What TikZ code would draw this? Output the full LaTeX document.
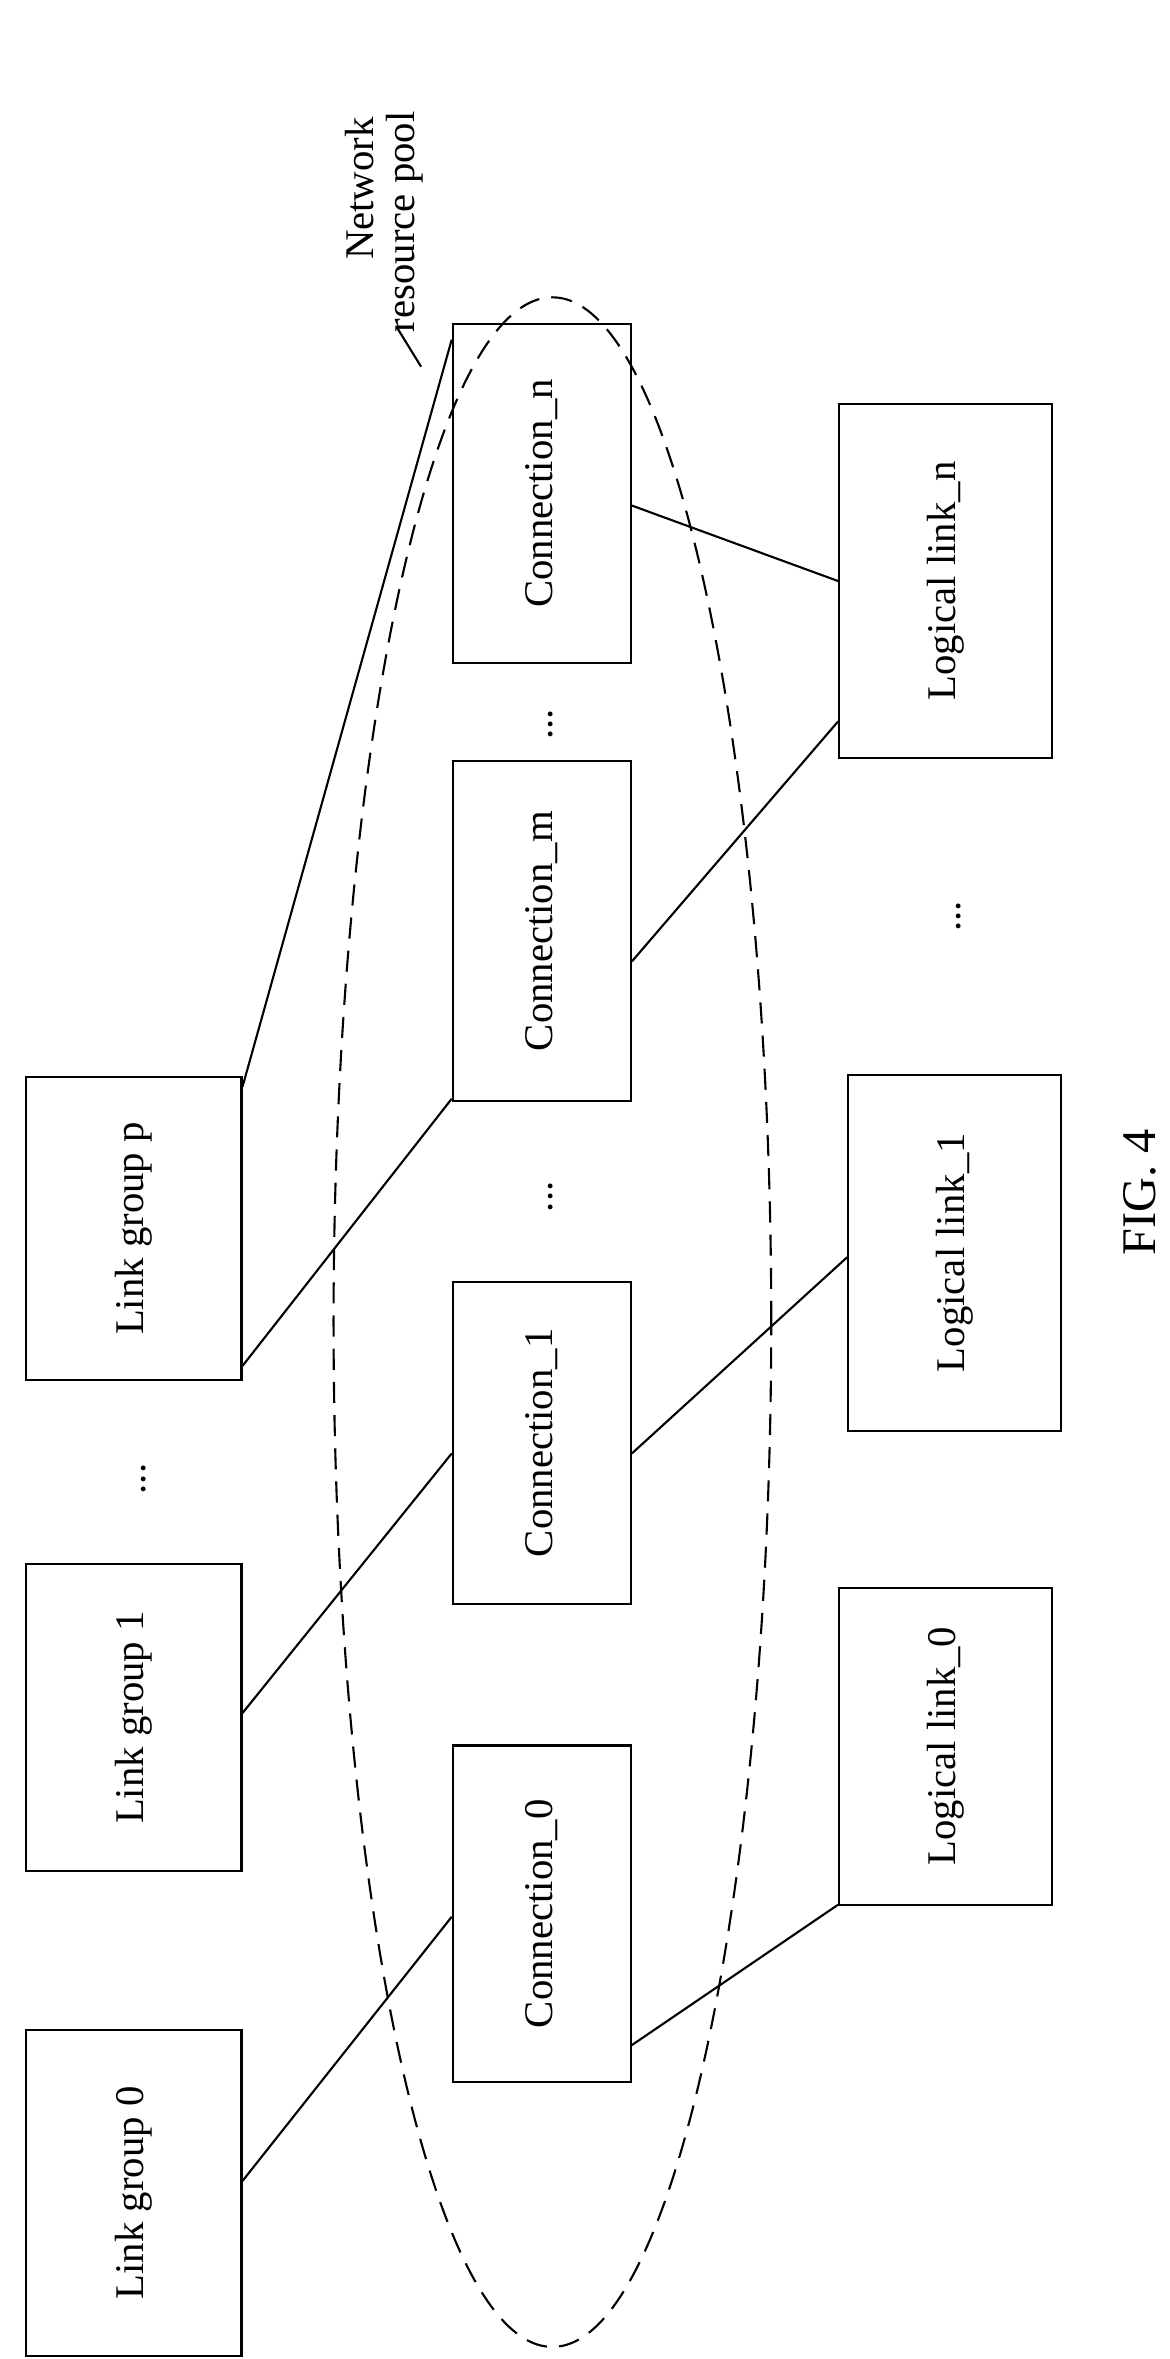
\documentclass[tikz,border=0pt]{standalone}
\usepackage{fontspec}
\setmainfont{Liberation Serif}
\usetikzlibrary{calc,shapes.geometric}
\begin{document}
\begin{tikzpicture}[x=1pt,y=1pt,line width=1.4pt,
  box/.style={draw,rotate=90,inner sep=0pt,font=\fontsize{27}{32}\selectfont},
  lbl/.style={rotate=90,font=\fontsize{27}{32}\selectfont,inner sep=0pt}]
\useasboundingbox (0,0) rectangle (775,1563);
\node[box,minimum width=216,minimum height=143] (lg0) at (88.5,110) {Link group 0};
\node[box,minimum width=203,minimum height=143] (lg1) at (88.5,425) {Link group 1};
\node[box,minimum width=201,minimum height=143] (lgp) at (88.5,749) {Link group p};
\node[box,minimum width=223,minimum height=118] (c0) at (359,295) {Connection\_0};
\node[box,minimum width=213,minimum height=118] (c1) at (359,607) {Connection\_1};
\node[box,minimum width=225,minimum height=118] (cm) at (359,946) {Connection\_m};
\node[box,minimum width=225,minimum height=118] (cn) at (359,1236) {Connection\_n};
\node[box,minimum width=210,minimum height=141] (ll0) at (626.5,406) {Logical link\_0};
\node[box,minimum width=236,minimum height=141] (ll1) at (632.5,733) {Logical link\_1};
\node[box,minimum width=235,minimum height=141] (lln) at (626.5,1178) {Logical link\_n};
\node[lbl] (d1) at (95,583) {...};
\node[lbl] (d2) at (365,770) {...};
\node[lbl] (d3) at (365,1083) {...};
\node[lbl] (d4) at (635,956) {...};
\node[lbl,font=\fontsize{32}{36}\selectfont] (fig) at (755,773) {FIG. 4};
\node[draw,ellipse,dash pattern=on 14pt off 8pt,minimum width=290,minimum height=1358,inner sep=0pt] (pool) at (366,687) {};
\node[lbl] (t1) at (238,1438) {Network};
\node[lbl] (t2) at (268,1416) {resource pool};
\coordinate (lead) at (263,1346);
\draw (lead) -- (279,1320);
\draw (lg0.south |- 0,118) -- (c0.north |- 0,293);
\draw (lg1.south |- 0,428) -- (c1.north |- 0,600);
\draw (lgp.south |- 0,658) -- (cm.north |- 0,835);
\draw (lgp.south |- 0,843) -- (cn.north |- 0,1338);
\draw (c0.south |- 0,208) -- (ll0.north |- 0,301);
\draw (c1.south |- 0,600) -- (ll1.north |- 0,730);
\draw (cm.south |- 0,926) -- (lln.north |- 0,1085);
\draw (cn.south |- 0,1228) -- (lln.north |- 0,1178);
\end{tikzpicture}
\end{document}
